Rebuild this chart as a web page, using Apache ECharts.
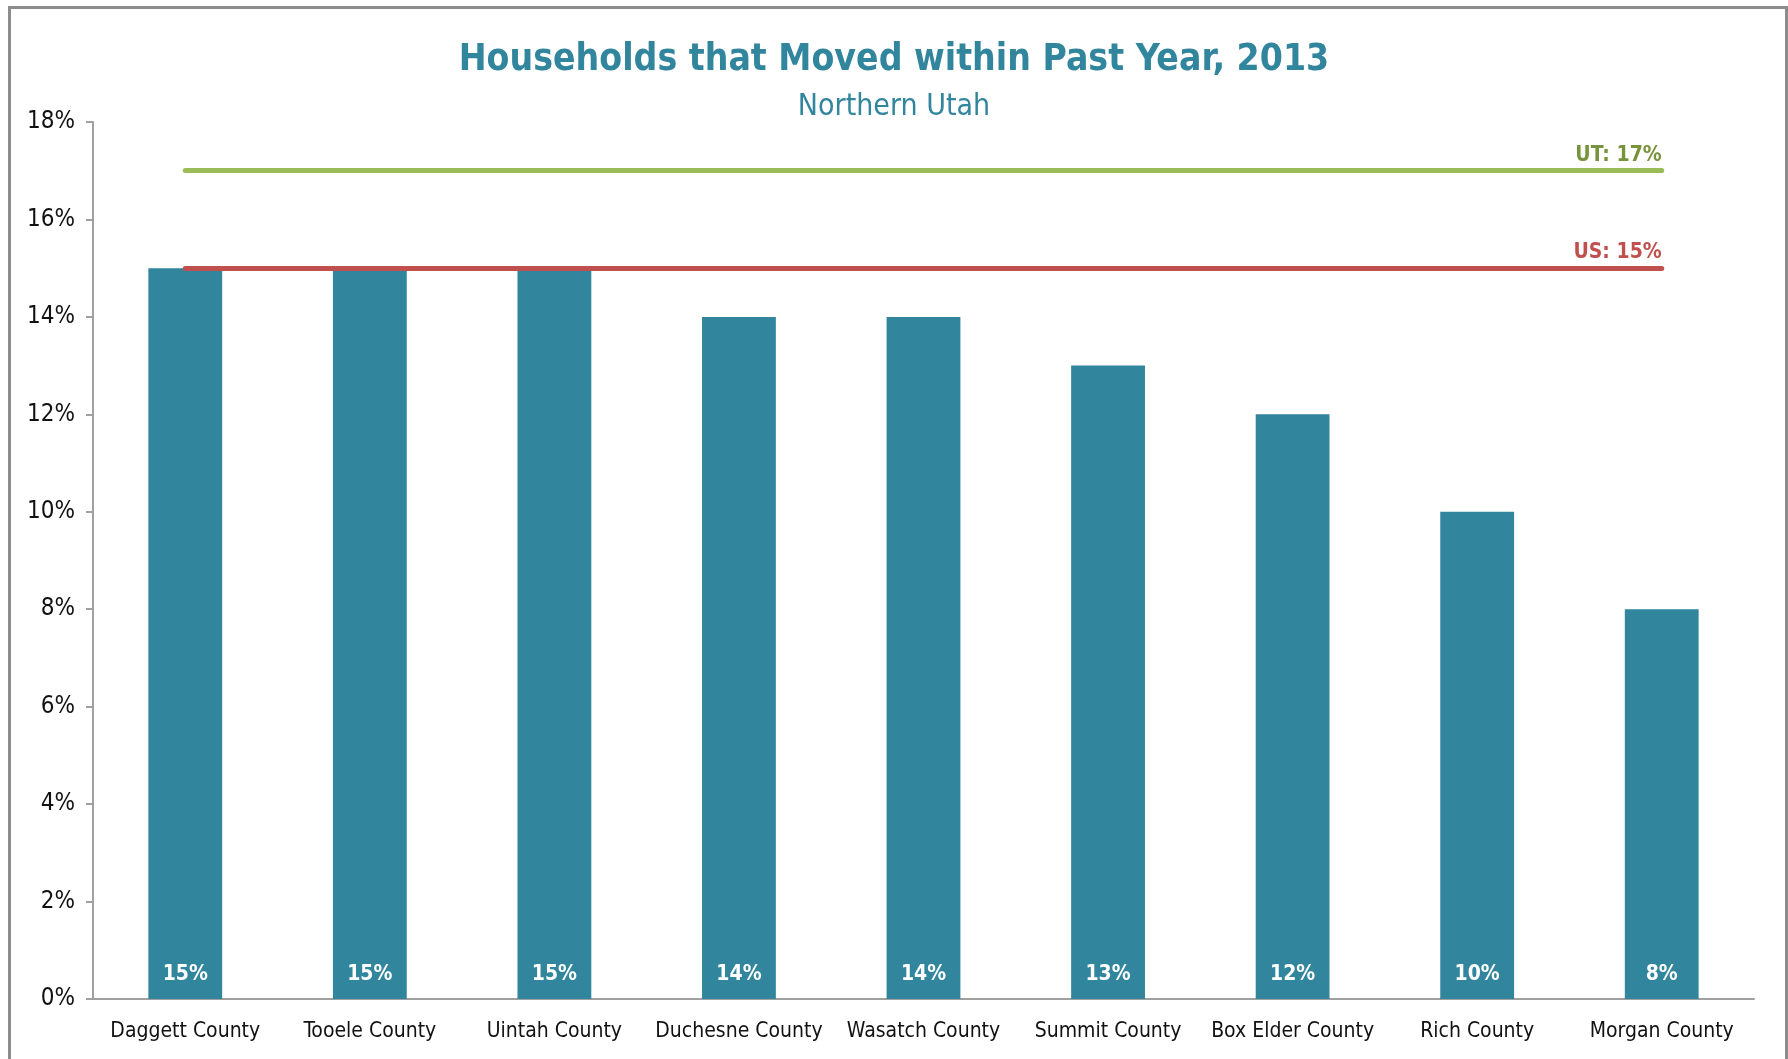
<!DOCTYPE html>
<html lang="en">
<head>
    <meta charset="UTF-8">
    <script src="https://cdn.jsdelivr.net/npm/echarts@6/dist/echarts.min.js"></script>
    <style>
        html, body { margin: 0; padding: 0; background: #fff; }
        #frame { position: absolute; left: 8px; top: 6px; width: 1774px; height: 1070px; border: 3px solid #8c8c8c; }
        #chart { position: absolute; left: 0; top: 0; width: 1788px; height: 1059px; }
    </style>
</head>
<body>
    <div id="frame"></div>
    <div id="chart"></div>
    <script type="text/javascript">
        var counties = ['Daggett County', 'Tooele County', 'Uintah County', 'Duchesne County', 'Wasatch County',
            'Summit County', 'Box Elder County', 'Rich County', 'Morgan County'];
        var moved = [15, 15, 15, 14, 14, 13, 12, 10, 8];
        var utRate = 17;
        var usRate = 15;
        var yTicks = { min: 0, max: 18, interval: 2 };

        var font = "'DejaVu Sans Condensed', 'Liberation Sans Narrow', 'Arial Narrow', sans-serif";
        var teal = '#31859C';

        // horizontal benchmark line from first to last county, label above its right end
        function refLine(value, label, lineColor, textColor) {
            return [
                {
                    coord: [counties[0], value],
                    lineStyle: { color: lineColor, width: 5, type: 'solid', cap: 'round' },
                    label: {
                        show: true,
                        position: 'insideEndTop',
                        distance: [0, 5],
                        formatter: label + ': ' + value + '%',
                        fontFamily: font,
                        fontSize: 21,
                        fontWeight: 'bold',
                        color: textColor
                    }
                },
                { coord: [counties[counties.length - 1], value] }
            ];
        }

        var mychart = echarts.init(document.getElementById('chart'));
        var option = {
            animation: false,
            backgroundColor: 'transparent',
            title: {
                text: 'Households that Moved within Past Year, 2013',
                subtext: 'Northern Utah',
                left: 'center',
                top: 37,
                itemGap: 13,
                textStyle: { fontFamily: font, fontSize: 37, fontWeight: 'bold', color: teal },
                subtextStyle: { fontFamily: font, fontSize: 30, color: teal }
            },
            grid: { left: 93, right: 34, top: 122, bottom: 60, containLabel: false },
            xAxis: {
                type: 'category',
                data: counties,
                axisLine: { lineStyle: { color: '#a0a0a0', width: 2 } },
                axisTick: { length: 8, lineStyle: { color: '#a0a0a0', width: 2 } },
                axisLabel: { interval: 0, margin: 22, fontFamily: font, fontSize: 21, color: '#111' }
            },
            yAxis: {
                type: 'value',
                min: yTicks.min,
                max: yTicks.max,
                interval: yTicks.interval,
                splitLine: { show: false },
                axisLine: { show: true, lineStyle: { color: '#a0a0a0', width: 2 } },
                axisTick: { show: true, length: 7, lineStyle: { color: '#a0a0a0', width: 2 } },
                axisLabel: { margin: 18, fontFamily: font, fontSize: 24, color: '#111', formatter: '{value}%' }
            },
            series: [
                {
                    type: 'bar',
                    data: moved,
                    barWidth: '40%',
                    itemStyle: { color: teal },
                    label: {
                        show: true,
                        position: 'insideBottom',
                        distance: 14,
                        formatter: '{c}%',
                        fontFamily: font,
                        fontSize: 21,
                        fontWeight: 'bold',
                        color: '#fff'
                    },
                    markLine: {
                        silent: true,
                        symbol: 'none',
                        data: [
                            refLine(utRate, 'UT', '#9BBB59', '#77933C'),
                            refLine(usRate, 'US', '#C0504D', '#C0504D')
                        ]
                    }
                }
            ]
        };
        mychart.setOption(option, true);
    </script>
</body>
</html>
